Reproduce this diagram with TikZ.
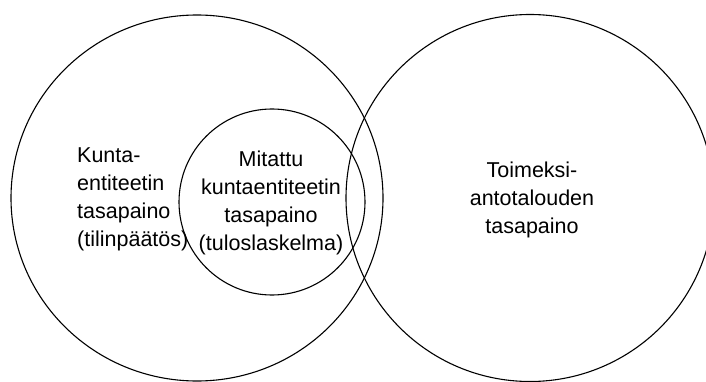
\documentclass[tikz,border=0pt]{standalone}
\usepackage{fontspec}
\setmainfont{Liberation Sans}
\usetikzlibrary{shapes.geometric}
\begin{document}
\begin{tikzpicture}[x=1pt,y=-1pt,
  ring/.style={ellipse,draw=black,line width=1.1pt,inner sep=0pt},
  label/.style={inner sep=0pt,font=\fontsize{21.5}{28}\selectfont}]
  \useasboundingbox (0,0) rectangle (706,382);
  \clip (0,0) rectangle (706,382);
  % the three sets
  \node[ring,minimum width=372pt,minimum height=366pt] (kunta) at (197,198) {};
  \node[ring,minimum width=368pt,minimum height=367pt] (toimeksi) at (530,198) {};
  \node[ring,minimum width=186pt,minimum height=186pt] (mitattu) at (272,202) {};
  % their labels
  \node[label,anchor=north west,align=left] (tkunta) at (77,147.5)
    {Kunta-\\entiteetin\\tasapaino\\(tilinpäätös)};
  \node[label,anchor=north,align=center] (tmitattu) at (271,150.5)
    {Mitattu\\kuntaentiteetin\\tasapaino\\(tuloslaskelma)};
  \node[label,anchor=north,align=center] (ttoimeksi) at (532,162)
    {Toimeksi-\\antotalouden\\tasapaino};
\end{tikzpicture}
\end{document}
